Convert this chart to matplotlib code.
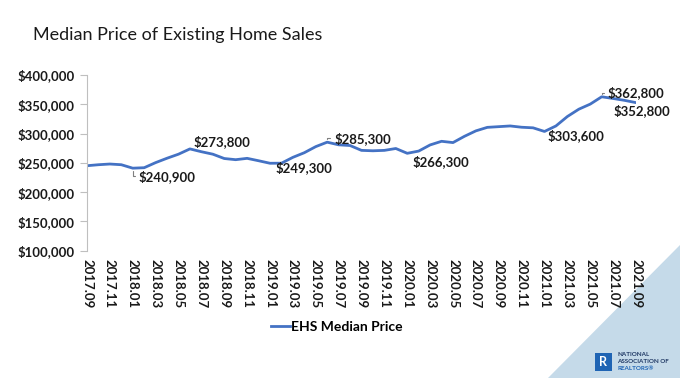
import matplotlib
matplotlib.use("Agg")
import matplotlib.pyplot as plt
from matplotlib.patches import Polygon, Rectangle
from matplotlib.ticker import FuncFormatter

plt.rcParams['font.family'] = ['Lato', 'DejaVu Sans']

# monthly categories 2017.09 .. 2021.09
months = []
for y in range(2017, 2022):
    for m in range(1, 13):
        if (y == 2017 and m < 9) or (y == 2021 and m > 9):
            continue
        months.append(f"{y}.{m:02d}")

median_price = [
    245100, 246800, 248000, 246800,                      # 2017.09-12
    240900, 241700, 250400, 257900, 264800, 273800,      # 2018.01-06
    269000, 264800, 257400, 255400, 257700, 253600,      # 2018.07-12
    249300, 249400, 259400, 267300, 277700, 285300,      # 2019.01-06
    280800, 279600, 271300, 270600, 271300, 274500,      # 2019.07-12
    266300, 270100, 280600, 286800, 284600, 295300,      # 2020.01-06
    304600, 310600, 311800, 313000, 310800, 309800,      # 2020.07-12
    303600, 313000, 329100, 341600, 350300, 362800,      # 2021.01-06
    359900, 356700, 352800,                              # 2021.07-09
]

# labelled points: (month, pixel offset of label, leader line?)
labels = [
    ("2018.01", (6, -8), True),
    ("2018.06", (4, 7), False),
    ("2019.01", (6, -4), False),
    ("2019.06", (7, 4), True),
    ("2020.01", (5, -8), False),
    ("2021.01", (3, -4), False),
    ("2021.06", (6, 4), True),
    ("2021.09", (-22, -8), False),
]

line_color = "#4472C4"

fig = plt.figure(figsize=(6.8, 3.78), dpi=100)

# decorative corner triangle
fig.patches.append(Polygon([(548 / 680, 0), (1, 0), (1, 1 - 245 / 378)],
                           closed=True, transform=fig.transFigure,
                           facecolor="#C5DAE9", edgecolor="none", zorder=-1))

ax = fig.add_axes([87 / 680, 1 - 250.7 / 378, (636 - 87) / 680, (250.7 - 75) / 378])
ax.set_facecolor("none")
ax.set_zorder(1)

x = list(range(len(months)))
line, = ax.plot(x, median_price, color=line_color, lw=2, label="EHS Median Price")

for month, off, leader in labels:
    i = months.index(month)
    v = median_price[i]
    kw = {}
    if leader:
        kw["arrowprops"] = dict(arrowstyle="-", color="#7F7F7F", lw=0.8,
                                shrinkA=1, shrinkB=2, relpos=(0, 0.5),
                                connectionstyle="angle,angleA=0,angleB=90,rad=0")
    ax.annotate(f"${v:,.0f}", xy=(i, v), xytext=off, textcoords="offset pixels",
                ha="left", va="center", fontsize=9.5, fontweight="bold",
                color="#1a1a1a", **kw)

ax.set_xlim(0, len(months) - 1)
ax.set_ylim(100000, 400000)
ax.set_yticks(range(100000, 400001, 50000))
ax.yaxis.set_major_formatter(FuncFormatter(lambda v, p: f"${v:,.0f}"))
ax.set_xticks(x[::2])
ax.set_xticklabels(months[::2], rotation=270, fontsize=9.5, fontweight="bold")
for t in ax.get_yticklabels():
    t.set_fontweight("bold")
    t.set_fontsize(9.5)

for s in ["top", "right", "bottom"]:
    ax.spines[s].set_visible(False)
ax.spines["left"].set_color("#BFBFBF")
ax.tick_params(axis="y", length=5, color="#BFBFBF", pad=4, labelcolor="#1a1a1a")
ax.tick_params(axis="x", length=0, pad=6, labelcolor="#1a1a1a")

fig.text(33 / 680, 1 - 35 / 378, "Median Price of Existing Home Sales",
         fontsize=13, ha="left", va="center", color="#1a1a1a")

leg = fig.legend(handles=[line], loc="center", bbox_to_anchor=(337 / 680, 1 - 327 / 378),
                 frameon=False, handlelength=1.3, handletextpad=0.1,
                 prop={"weight": "bold", "size": 10})

# NAR logo
fig.patches.append(Rectangle((595 / 680, 1 - 371 / 378), 17 / 680, 18 / 378,
                             transform=fig.transFigure, facecolor="#1F64B4",
                             edgecolor="none", zorder=2))
fig.text(603.5 / 680, 1 - 362 / 378, "R", color="white", fontsize=9,
         fontweight="bold", ha="center", va="center")
fig.text(617 / 680, 1 - 355 / 378, "NATIONAL", fontsize=4.5, fontweight="bold",
         color="#1F3864", va="center")
fig.text(617 / 680, 1 - 361.5 / 378, "ASSOCIATION OF", fontsize=4.5, fontweight="bold",
         color="#1F3864", va="center")
fig.text(617 / 680, 1 - 368 / 378, "REALTORS\u00ae", fontsize=4.5, fontweight="bold",
         color="#1F64B4", va="center")

fig.savefig("out.png", dpi=100)
